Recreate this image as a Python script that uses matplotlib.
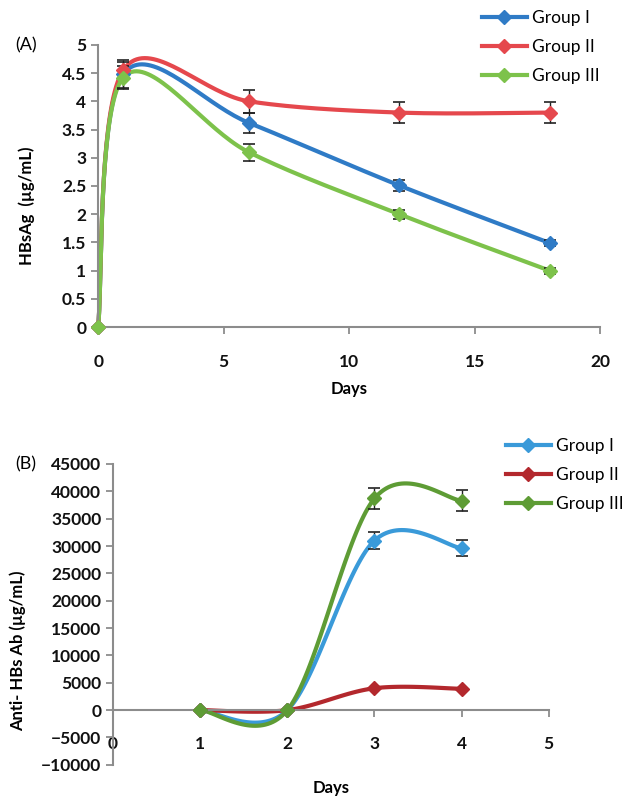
import numpy as np
import matplotlib
matplotlib.use("Agg")
import matplotlib.pyplot as plt

plt.rcParams['font.family'] = ['Lato', 'DejaVu Sans']

# panel A - HBsAg
days_a = [0, 1, 6, 12, 18]
hbsag_g1 = [0, 4.48, 3.62, 2.51, 1.49]
hbsag_g2 = [0, 4.55, 4.0, 3.8, 3.8]
hbsag_g3 = [0, 4.42, 3.1, 2.0, 1.0]
err_a_g1 = [0, 0.25, 0.18, 0.1, 0.05]
err_a_g2 = [0, 0.15, 0.2, 0.18, 0.18]
err_a_g3 = [0, 0.2, 0.15, 0.08, 0.05]

# panel B - anti-HBs
days_b = [1, 2, 3, 4]
ab_g1 = [0, 0, 31000, 29600]
ab_g2 = [0, 0, 4000, 3900]
ab_g3 = [0, 0, 38700, 38300]
err_b_g1 = [0, 0, 1500, 1500]
err_b_g2 = [0, 0, 0, 0]
err_b_g3 = [0, 0, 1900, 1900]

groups = ['Group I', 'Group II', 'Group III']
colors_a = ['#2F7BC6', '#E5484D', '#7DC24B']
colors_b = ['#3A9AD9', '#B3282D', '#5E9C35']


def smooth(x, y, n=40):
    # excel-like smoothed line: cubic bezier with catmull-rom tangents
    p = np.column_stack([x, y]).astype(float)
    p = np.vstack([p[0], p, p[-1]])
    out = []
    t = np.linspace(0, 1, n)[:, None]
    for i in range(1, len(p) - 2):
        p0, p1, p2, p3 = p[i - 1], p[i], p[i + 1], p[i + 2]
        c1 = p1 + (p2 - p0) / 6
        c2 = p2 - (p3 - p1) / 6
        seg = ((1 - t) ** 3) * p1 + 3 * ((1 - t) ** 2) * t * c1 + 3 * (1 - t) * t ** 2 * c2 + t ** 3 * p2
        out.append(seg)
    out = np.vstack(out)
    return out[:, 0], out[:, 1]


def style_axes(ax):
    for s in ['top', 'right']:
        ax.spines[s].set_visible(False)
    for s in ['left', 'bottom']:
        ax.spines[s].set_color('#8c8c8c')
        ax.spines[s].set_linewidth(1.5)
    ax.tick_params(axis='both', colors='#8c8c8c', width=1.3, length=5, labelcolor='#111111',
                   labelsize=12.5)
    ax.tick_params(axis='x', pad=14)
    for lab in ax.get_xticklabels() + ax.get_yticklabels():
        lab.set_fontweight('bold')


fig = plt.figure(figsize=(6.25, 8), dpi=100)

# ---------- (A)
ax1 = fig.add_axes([0.157, 0.591, 0.803, 0.353])
series_a = [hbsag_g1, hbsag_g2, hbsag_g3]
errs_a = [err_a_g1, err_a_g2, err_a_g3]
for vals, err, c, g in zip(series_a, errs_a, colors_a, groups):
    sx, sy = smooth(days_a, vals)
    ax1.plot(sx, sy, color=c, lw=3, solid_capstyle='round', zorder=2, clip_on=False)
    ax1.errorbar(days_a, vals, yerr=err, fmt='none', ecolor='#222222', elinewidth=1,
                 capsize=4, capthick=1.2, zorder=3)
    ax1.plot(days_a, vals, ls='none', marker='D', ms=7, color=c, zorder=4, clip_on=False)
    ax1.plot([], [], color=c, lw=3, marker='D', ms=7, label=g)
ax1.set_xlim(0, 20)
ax1.set_ylim(0, 5)
ax1.set_xticks(np.arange(0, 21, 5))
ax1.set_yticks(np.arange(0, 5.01, 0.5))
ax1.set_yticklabels(['%g' % v for v in np.arange(0, 5.01, 0.5)])
style_axes(ax1)
ax1.set_xlabel('Days', fontsize=12, fontweight='bold', labelpad=8)
ax1.set_ylabel('HBsAg  (µg/mL)', fontsize=12, fontweight='bold', labelpad=8)
ax1.yaxis.set_label_coords(-0.125, 0.43)
ax1.legend(loc='upper left', bbox_to_anchor=(0.757, 0.998), bbox_transform=fig.transFigure,
           frameon=False, fontsize=12.5, handlelength=2.6, handletextpad=0.3,
           labelspacing=0.75, borderpad=0)
fig.text(0.024, 0.943, '(A)', fontsize=13, va='center')

# ---------- (B)
ax2 = fig.add_axes([0.181, 0.044, 0.697, 0.376])
series_b = [ab_g1, ab_g2, ab_g3]
errs_b = [err_b_g1, err_b_g2, err_b_g3]
for vals, err, c, g in zip(series_b, errs_b, colors_b, groups):
    sx, sy = smooth(days_b, vals)
    ax2.plot(sx, sy, color=c, lw=3, solid_capstyle='round', zorder=2)
    if max(err) > 0:
        ax2.errorbar(days_b, vals, yerr=err, fmt='none', ecolor='#222222', elinewidth=1,
                     capsize=4, capthick=1.2, zorder=3)
    ax2.plot(days_b, vals, ls='none', marker='D', ms=7, color=c, zorder=4)
    ax2.plot([], [], color=c, lw=3, marker='D', ms=7, label=g)
ax2.set_xlim(0, 5)
ax2.set_ylim(-10000, 45000)
ax2.set_xticks(np.arange(0, 6, 1))
ax2.set_yticks(np.arange(-10000, 45001, 5000))
ax2.spines['bottom'].set_position(('data', 0))
style_axes(ax2)
ax2.set_xlabel('Days', fontsize=12, fontweight='bold')
ax2.xaxis.set_label_coords(0.5, -0.052)
ax2.set_ylabel('Anti- HBs Ab (µg/mL)', fontsize=12, fontweight='bold')
ax2.yaxis.set_label_coords(-0.2, 0.38)
ax2.legend(loc='upper left', bbox_to_anchor=(0.795, 0.463), bbox_transform=fig.transFigure,
           frameon=False, fontsize=12.5, handlelength=2.6, handletextpad=0.3,
           labelspacing=0.75, borderpad=0)
fig.text(0.024, 0.42, '(B)', fontsize=13, va='center')

fig.savefig('out.png', dpi=100)
